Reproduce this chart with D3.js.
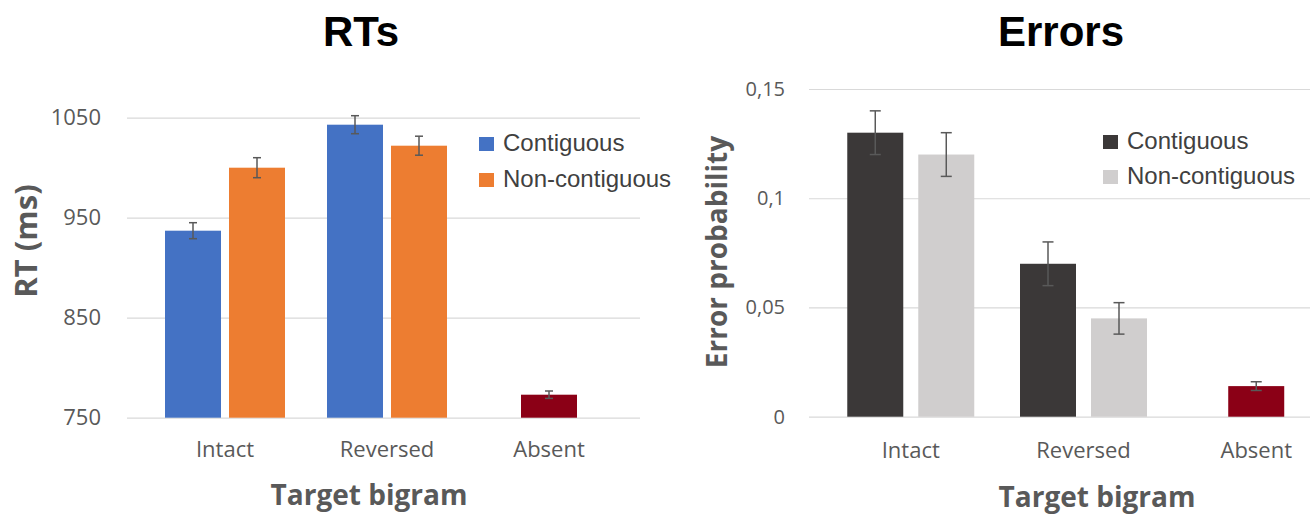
<!DOCTYPE html>
<html>
<head>
<meta charset="utf-8">
<script src="https://cdn.jsdelivr.net/npm/d3@7"></script>
<style>
  body { margin: 0; background: #fff; }
  svg { display: block; }
</style>
</head>
<body>
<div id="chart"></div>
<script>

// categories and series
var categories = ["Intact", "Reversed", "Absent"];
var seriesNames = ["Contiguous", "Non-contiguous", "Absent"];
var legendNames = ["Contiguous", "Non-contiguous"];

// RT panel (ms), null where a series has no bar
var rtContiguous = [937, 1043, null];
var rtNonContiguous = [1000, 1022, null];
var rtAbsent = [null, null, 773];
var rtErrContiguous = [8, 9, null];
var rtErrNonContiguous = [10, 9.5, null];
var rtErrAbsent = [null, null, 3.7];
var rtTicks = [750, 850, 950, 1050];

// Error panel (probability)
var erContiguous = [0.13, 0.07, null];
var erNonContiguous = [0.12, 0.045, null];
var erAbsent = [null, null, 0.014];
var erErrContiguous = [0.01, 0.01, null];
var erErrNonContiguous = [0.01, 0.0072, null];
var erErrAbsent = [null, null, 0.002];
var erTicks = [0, 0.05, 0.1, 0.15];

var svgWidth = 1315;
var svgHeight = 514;

var svg = d3.select("#chart").append("svg")
    .attr("width", svgWidth)
    .attr("height", svgHeight);

svg.append("rect")
    .attr("width", svgWidth)
    .attr("height", svgHeight)
    .attr("fill", "#fff");

var commaLocale = d3.formatLocale({decimal: ",", thousands: ".", grouping: [3], currency: ["", ""]});

// draws one panel
function drawPanel(p) {
    var g = svg.append("g");

    var yScale = d3.scaleLinear()
        .domain(p.yDomain)
        .range([p.bottom, p.top]);

    var xScale = d3.scaleBand()
        .domain(categories)
        .range(p.xRange);

    // gridlines + tick labels
    var yAxis = d3.axisLeft(yScale)
        .tickValues(p.ticks)
        .tickSize(-(p.plotRight - p.plotLeft))
        .tickPadding(p.tickPad)
        .tickFormat(p.format);

    var yG = g.append("g")
        .attr("transform", `translate(${p.plotLeft}, 0)`)
        .call(yAxis);
    yG.select(".domain").remove();
    yG.selectAll("line").attr("stroke", "#d9d9d9").attr("stroke-width", 1.2);
    yG.selectAll("text")
        .attr("fill", "#595959")
        .style("font-family", "'Open Sans', sans-serif")
        .style("font-size", p.tickSize + "px");

    // bars
    var rows = [];
    categories.forEach(function(c, i) {
        var present = [];
        p.values.forEach(function(vals, s) {
            if (vals[i] !== null) present.push(s);
        });
        var inner = d3.scaleBand()
            .domain(present)
            .range([0, present.length * p.barW + (present.length - 1) * p.barGap])
            .paddingInner(present.length > 1 ? p.barGap / (p.barW + p.barGap) : 0);
        var start = xScale(c) + xScale.bandwidth() / 2 - inner.range()[1] / 2;
        present.forEach(function(s) {
            rows.push({
                cat: c,
                s: s,
                x: start + inner(s),
                w: inner.bandwidth(),
                v: p.values[s][i],
                e: p.errs[s][i]
            });
        });
    });

    g.selectAll(".bar")
        .data(rows)
        .enter()
        .append("rect")
        .attr("class", "bar")
        .attr("x", d => d.x)
        .attr("width", d => d.w)
        .attr("y", d => yScale(d.v))
        .attr("height", d => yScale(p.yDomain[0]) - yScale(d.v))
        .attr("fill", d => p.colors[d.s]);

    // error bars
    var eb = g.selectAll(".err")
        .data(rows)
        .enter()
        .append("g")
        .attr("class", "err")
        .attr("stroke", "#595959")
        .attr("stroke-width", 1.5);

    eb.append("line")
        .attr("x1", d => d.x + d.w / 2)
        .attr("x2", d => d.x + d.w / 2)
        .attr("y1", d => yScale(d.v + d.e))
        .attr("y2", d => yScale(d.v - d.e));
    eb.append("line")
        .attr("x1", d => d.x + d.w / 2 - p.cap)
        .attr("x2", d => d.x + d.w / 2 + p.cap)
        .attr("y1", d => yScale(d.v + d.e))
        .attr("y2", d => yScale(d.v + d.e));
    eb.append("line")
        .attr("x1", d => d.x + d.w / 2 - p.cap)
        .attr("x2", d => d.x + d.w / 2 + p.cap)
        .attr("y1", d => yScale(d.v - d.e))
        .attr("y2", d => yScale(d.v - d.e));

    // category labels
    var xAxis = d3.axisBottom(xScale).tickSize(0).tickPadding(0);
    var xG = g.append("g")
        .attr("transform", `translate(0, ${p.catY})`)
        .call(xAxis);
    xG.select(".domain").remove();
    xG.selectAll("text")
        .attr("dy", 0)
        .attr("fill", "#595959")
        .style("font-family", "'Open Sans', sans-serif")
        .style("font-size", "22px");

    // titles
    g.append("text")
        .attr("x", p.titleX)
        .attr("y", 46)
        .attr("text-anchor", "middle")
        .style("font-family", "'Liberation Sans', Arial, sans-serif")
        .style("font-weight", "bold")
        .style("font-size", "42px")
        .attr("fill", "#000")
        .text(p.title);

    g.append("text")
        .attr("x", p.xTitleX)
        .attr("y", p.xTitleY)
        .attr("text-anchor", "middle")
        .style("font-family", "'Open Sans', sans-serif")
        .style("font-weight", "bold")
        .style("font-size", "28px")
        .attr("fill", "#595959")
        .text("Target bigram");

    g.append("text")
        .attr("transform", `translate(${p.yTitleX}, ${p.yTitleY}) rotate(-90)`)
        .attr("text-anchor", "middle")
        .style("font-family", "'Open Sans', sans-serif")
        .style("font-weight", "bold")
        .style("font-size", p.yTitleSize + "px")
        .attr("fill", "#595959")
        .text(p.yTitle);

    // legend
    var leg = g.selectAll(".leg")
        .data(legendNames)
        .enter()
        .append("g")
        .attr("class", "leg")
        .attr("transform", (d, i) => `translate(${p.legX}, ${p.legY + i * p.legStep})`);

    leg.append("rect")
        .attr("x", 0)
        .attr("y", -14)
        .attr("width", 15)
        .attr("height", 14)
        .attr("fill", (d, i) => p.colors[i]);

    leg.append("text")
        .attr("x", 24)
        .attr("y", 0)
        .style("font-family", "'Liberation Sans', Arial, sans-serif")
        .style("font-size", "24px")
        .attr("fill", "#404040")
        .text(d => d);
}

drawPanel({
    title: "RTs",
    titleX: 361,
    yDomain: [750, 1050],
    top: 117.7,
    bottom: 417.7,
    plotLeft: 127,
    plotRight: 640,
    xRange: [144, 630],
    ticks: rtTicks,
    format: d3.format("d"),
    tickPad: 26,
    tickSize: 22,
    values: [rtContiguous, rtNonContiguous, rtAbsent],
    errs: [rtErrContiguous, rtErrNonContiguous, rtErrAbsent],
    colors: ["#4472c4", "#ed7d31", "#8b0016"],
    barW: 56,
    barGap: 8,
    cap: 4,
    catY: 457,
    xTitleX: 369,
    xTitleY: 505,
    yTitle: "RT (ms)",
    yTitleX: 37,
    yTitleY: 241,
    yTitleSize: 31,
    legX: 479,
    legY: 151,
    legStep: 36
});

drawPanel({
    title: "Errors",
    titleX: 1061,
    yDomain: [0, 0.15],
    top: 89,
    bottom: 416.7,
    plotLeft: 809,
    plotRight: 1310,
    xRange: [824.4, 1342.6],
    ticks: erTicks,
    format: commaLocale.format("~g"),
    tickPad: 24,
    tickSize: 20,
    values: [erContiguous, erNonContiguous, erAbsent],
    errs: [erErrContiguous, erErrNonContiguous, erErrAbsent],
    colors: ["#3b3838", "#d0cece", "#8b0016"],
    barW: 56,
    barGap: 15,
    cap: 5.5,
    catY: 458,
    xTitleX: 1097,
    xTitleY: 507,
    yTitle: "Error probability",
    yTitleX: 727,
    yTitleY: 252,
    yTitleSize: 28,
    legX: 1103,
    legY: 149,
    legStep: 35
});

</script>
</body>
</html>
